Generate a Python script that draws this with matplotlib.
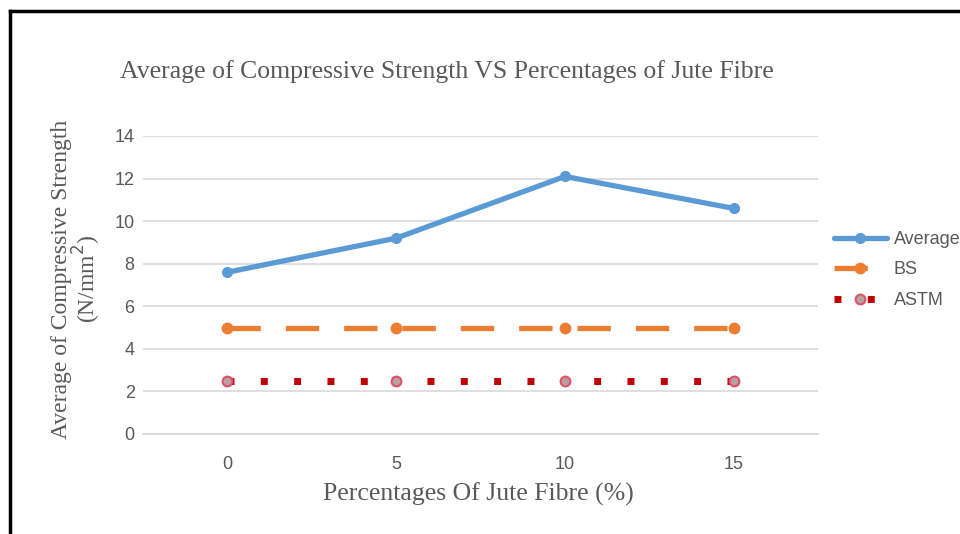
import matplotlib
matplotlib.use("Agg")
import matplotlib.pyplot as plt
from matplotlib.lines import Line2D

# fibre content categories and measured / code strengths (N/mm2)
fibre_pct = ["0", "5", "10", "15"]
average = [7.6, 9.2, 12.1, 10.6]
bs_limit = [5.0, 5.0, 5.0, 5.0]
astm_limit = [2.5, 2.5, 2.5, 2.5]
y_ticks = [0, 2, 4, 6, 8, 10, 12, 14]

BLUE = "#5B9BD5"
ORANGE = "#ED7D31"
RED = "#C00000"
TXT = "#595959"
GRID = "#D9D9D9"

plt.rcParams["lines.scale_dashes"] = False

fig = plt.figure(figsize=(9.6, 5.34), dpi=100)
fig.patch.set_facecolor("white")
ax = fig.add_axes([143 / 960, 1 - 434 / 534, 675 / 960, 298 / 534])

x = list(range(len(fibre_pct)))

ax.plot(x, average, color=BLUE, lw=3.8, marker="o", ms=7,
        mfc=BLUE, mec=BLUE, solid_capstyle="round", label="Average", zorder=5)

bs_line, = ax.plot(x, bs_limit, color=ORANGE, lw=3.8, marker="o", ms=7.5,
                   mfc=ORANGE, mec=ORANGE, label="BS", zorder=4)
bs_line.set_dashes((24, 18))
bs_line.set_dash_capstyle("butt")

astm_line, = ax.plot(x, astm_limit, color=RED, lw=5, marker="o", ms=7,
                     mfc="#B8A0A0", mec="#E0506A", mew=1.5, label="ASTM", zorder=4)
astm_line.set_dashes((5, 19))
astm_line.set_dash_capstyle("butt")

ax.set_xlim(-0.5, 3.5)
ax.set_ylim(0, 14)
ax.set_xticks(x)
ax.set_xticklabels(fibre_pct)
ax.set_yticks(y_ticks)
ax.yaxis.grid(True, color=GRID, lw=1.2)
ax.set_axisbelow(True)
for s in ["top", "right", "left"]:
    ax.spines[s].set_visible(False)
ax.spines["bottom"].set_color(GRID)
ax.spines["bottom"].set_linewidth(1.2)
ax.tick_params(length=0, colors=TXT, labelsize=13)
ax.tick_params(axis="y", pad=6)
ax.tick_params(axis="x", pad=16)
for lab in ax.get_xticklabels() + ax.get_yticklabels():
    lab.set_fontfamily("Liberation Sans")

serif = "Liberation Serif"
fig.text(447 / 960, 1 - 72 / 534,
         "Average of Compressive Strength VS Percentages of Jute Fibre",
         ha="center", va="center", fontsize=18.5, color=TXT, fontfamily=serif)
fig.text(478 / 960, 1 - 494 / 534, "Percentages Of Jute Fibre (%)",
         ha="center", va="center", fontsize=18.5, color=TXT, fontfamily=serif)
fig.text(77 / 960, 1 - 279 / 534,
         "Average of Compressive Strength\n(N/mm$^2$)",
         ha="center", va="center", rotation=90, fontsize=17, color=TXT,
         fontfamily=serif, linespacing=0.95)

leg = ax.legend(loc="center left", bbox_to_anchor=(818 / 960, 1 - 270 / 534),
                bbox_transform=fig.transFigure, frameon=False,
                prop={"family": "Liberation Sans", "size": 13},
                handlelength=2.9, handletextpad=0.4, labelspacing=0.75)
for t in leg.get_texts():
    t.set_color(TXT)

# black frame along top and left edges
fig.add_artist(Line2D([10 / 960, 1], [1 - 11 / 534, 1 - 11 / 534],
                      transform=fig.transFigure, color="black", lw=2.5))
fig.add_artist(Line2D([10 / 960, 10 / 960], [0, 1 - 11 / 534],
                      transform=fig.transFigure, color="black", lw=2.5))

fig.savefig("out.png", dpi=100, facecolor="white")
